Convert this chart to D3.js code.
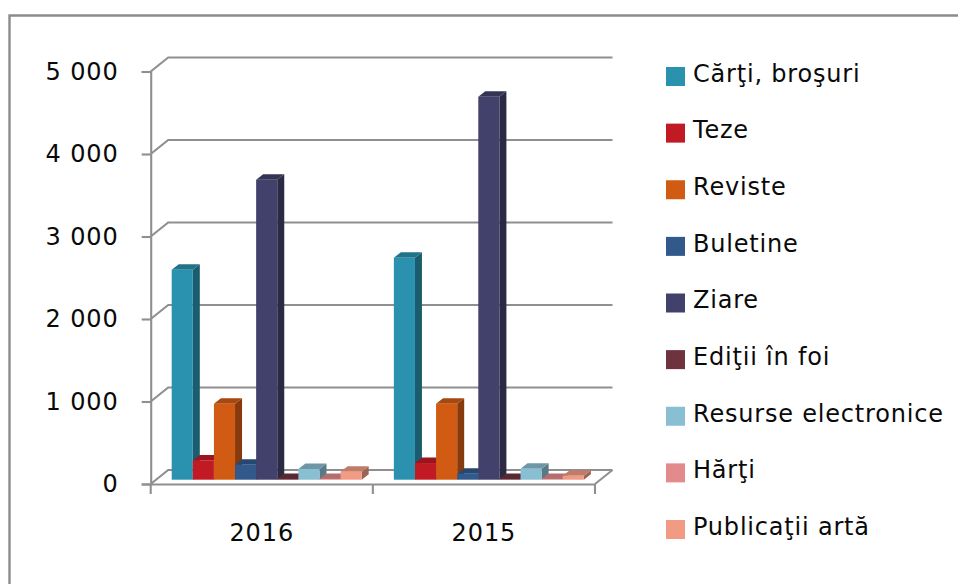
<!DOCTYPE html>
<html><head><meta charset="utf-8">
<script src="https://cdn.jsdelivr.net/npm/d3@7/dist/d3.min.js"></script>
<style>html,body{margin:0;padding:0;background:#fff}svg{display:block}
text{font-family:"DejaVu Sans",sans-serif;fill:#0a0a0a}</style></head>
<body><svg id="c" width="958" height="584"></svg>
<script>
const categories = ["2016", "2015"];
const seriesNames = ["Cărţi, broşuri","Teze","Reviste","Buletine","Ziare","Ediţii în foi","Resurse electronice","Hărţi","Publicaţii artă"];
const seriesColors = ["#2A91AE","#C21A25","#D25B14","#31598C","#41416B","#6F3340","#89BFD2","#E28A8C","#F29B84"];
const values2016 = [2545,234,921,182,3636,10,130,10,97];
const values2015 = [2690,202,921,73,4642,10,133,10,48];
const yTicks = [0,1000,2000,3000,4000,5000];
const yTickLabels = ["0","1 000","2 000","3 000","4 000","5 000"];
const valuesByCategory = [values2016, values2015];

const svg = d3.select("#c");
const grey = "#8f8f8f";
const y = d3.scaleLinear().domain([0,5000]).range([484,71.5]);
const x0 = d3.scaleBand().domain(categories).range([150.7,595]);
const x1 = d3.scaleBand().domain(seriesNames).range([21,211]);
const wall = {dx:17.5, dy:-14};
const barLift = -4.3;
const depth = {dx:7, dy:-5.5};

// outer frame
svg.append("path").attr("d","M9.5,584V15.5H958").attr("fill","none").attr("stroke","#8c8c8c").attr("stroke-width",2.4);

// gridlines on the back wall and the side wall
const x0r = x0.range();
const grid = svg.append("g").attr("fill","none").attr("stroke",grey).attr("stroke-width",2.1);
yTicks.forEach(t=>{
  grid.append("path").attr("d",`M${x0r[0]},${y(t)}L${x0r[0]+wall.dx},${y(t)+wall.dy}H${x0r[1]+wall.dx}`);
});
grid.append("path").attr("d",`M${x0r[1]},${y(0)}L${x0r[1]+wall.dx},${y(0)+wall.dy}`);

// axes
const yAxis = d3.axisLeft(y).tickValues(yTicks).tickFormat((d,i)=>yTickLabels[i]).tickSize(9).tickPadding(23);
const gy = svg.append("g").attr("transform",`translate(${x0r[0]},0)`).call(yAxis);
const xAxis = d3.axisBottom(x0).tickSize(0).tickPadding(49);
const gx = svg.append("g").attr("transform",`translate(0,${y(0)})`).call(xAxis);
x0.domain().concat(["end"]).forEach((c,i)=>{
  const px = x0r[0]+i*x0.bandwidth();
  gx.append("line").attr("x1",px).attr("x2",px).attr("y1",0).attr("y2",10).attr("stroke",grey).attr("stroke-width",2.1);
});
[gy,gx].forEach(g=>{
  g.selectAll("path.domain").attr("stroke",grey).attr("stroke-width",2.1);
  g.selectAll(".tick line").attr("stroke",grey).attr("stroke-width",2.1);
  g.selectAll("text").attr("font-family",'"DejaVu Sans",sans-serif').attr("font-size",24).attr("fill","#0a0a0a").style("letter-spacing","0.9px");
});
gx.selectAll(".tick line").remove();
gx.selectAll(".tick text").attr("dy","0.32em");

// bars, painted left to right
const base = y(0)+barLift;
categories.forEach((c,ci)=>{
  const g = svg.append("g").attr("transform",`translate(${x0(c)},0)`);
  const rows = seriesNames.map((s,i)=>({s,i,v:valuesByCategory[ci][i]}));
  const bar = g.selectAll("g").data(rows).join("g");
  const w = x1.bandwidth();
  bar.append("path") // side face
    .attr("d",d=>{const l=x1(d.s)+w,t=y(d.v)+barLift;
      return `M${l},${base}V${t}l${depth.dx},${depth.dy}V${base+depth.dy}Z`;})
    .attr("fill",d=>d3.rgb(seriesColors[d.i]).darker(1.25));
  bar.append("path") // top face
    .attr("d",d=>{const l=x1(d.s),t=y(d.v)+barLift;
      return `M${l},${t}l${depth.dx},${depth.dy}h${w}l${-depth.dx},${-depth.dy}Z`;})
    .attr("fill",d=>d3.rgb(seriesColors[d.i]).darker(0.65));
  bar.append("rect") // front face
    .attr("x",d=>x1(d.s)).attr("width",w)
    .attr("y",d=>y(d.v)+barLift).attr("height",d=>base-(y(d.v)+barLift))
    .attr("fill",d=>seriesColors[d.i]);
});

// legend
const legY = d3.scalePoint().domain(seriesNames).range([67,520]);
const leg = svg.append("g").selectAll("g").data(seriesNames).join("g")
  .attr("transform",d=>`translate(666,${legY(d)})`);
leg.append("rect").attr("width",19).attr("height",19).attr("fill",(d,i)=>seriesColors[i]);
leg.append("text").attr("x",27).attr("y",14.8).attr("font-size",24).style("letter-spacing","0.8px").text(d=>d);
</script></body></html>
